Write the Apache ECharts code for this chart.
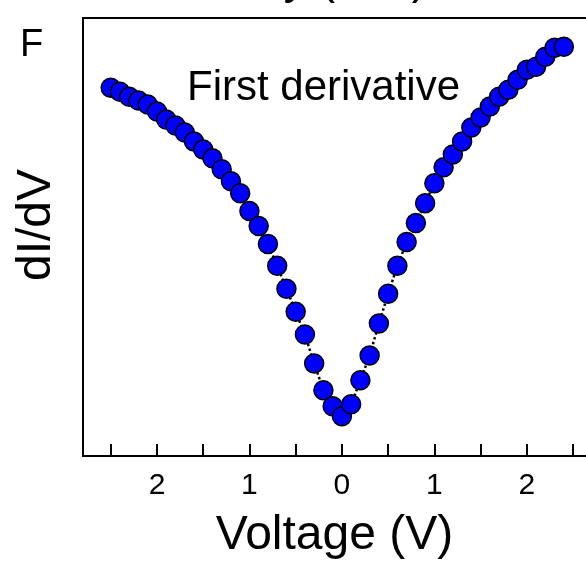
<!DOCTYPE html>
<html>
<head>
<meta charset="utf-8">
<script src="https://cdn.jsdelivr.net/npm/echarts@6/dist/echarts.min.js"></script>
<style>
html,body{margin:0;padding:0;background:#fff;}
#chart{width:586px;height:565px;}
</style>
</head>
<body>
<div id="chart"></div>
<script>
// Voltage (V)
const voltages = [-2.5,-2.4,-2.3,-2.2,-2.1,-2.0,-1.9,-1.8,-1.7,-1.6,-1.5,-1.4,-1.3,-1.2,-1.1,-1.0,-0.9,-0.8,-0.7,-0.6,-0.5,-0.4,-0.3,-0.2,-0.1,
  0.0,0.1,0.2,0.3,0.4,0.5,0.6,0.7,0.8,0.9,1.0,1.1,1.2,1.3,1.4,1.5,1.6,1.7,1.8,1.9,2.0,2.1,2.2,2.3,2.4];
// dI/dV (a.u.)
const dIdV = [3.70,3.66,3.61,3.57,3.53,3.46,3.38,3.32,3.25,3.16,3.08,2.99,2.88,2.76,2.64,2.46,2.31,2.13,1.91,1.68,1.45,1.22,0.93,0.66,0.50,
  0.40,0.52,0.76,1.01,1.33,1.63,1.91,2.15,2.34,2.54,2.74,2.90,3.03,3.16,3.30,3.40,3.51,3.61,3.68,3.78,3.88,3.91,4.01,4.10,4.11];
const tickValues = [-2.5,-2,-1.5,-1,-0.5,0,0.5,1,1.5,2,2.5];
const labelValues = [-2,-1,0,1,2];

const FONT = 'Liberation Sans, Arial, sans-serif';
const chart = echarts.init(document.getElementById('chart'), null, {renderer:'canvas'});
chart.setOption({
  backgroundColor:'#fff',
  animation:false,
  grid:{left:83, top:18, right:0, bottom:107, show:false},
  xAxis:[{
    type:'value', min:-2.8, max:2.64, position:'bottom',
    name:'Voltage (V)', nameLocation:'middle', nameGap:80,
    nameTextStyle:{fontFamily:FONT, fontSize:48, color:'#000', verticalAlign:'middle'},
    axisLine:{show:true, onZero:false, lineStyle:{color:'#000', width:2}},
    axisTick:{show:true, inside:true, length:12, lineStyle:{color:'#000', width:2}, customValues:tickValues},
    axisLabel:{show:true, margin:15, fontFamily:FONT, fontSize:30, color:'#000', customValues:labelValues,
      formatter:v=>String(Math.abs(Math.round(v)))},
    splitLine:{show:false}
  },{
    type:'value', min:-2.8, max:2.64, position:'top',
    axisLine:{show:true, onZero:false, lineStyle:{color:'#000', width:2}},
    axisTick:{show:false}, axisLabel:{show:false}, splitLine:{show:false}
  }],
  yAxis:{
    type:'value', min:0, max:4.4,
    axisLine:{show:true, onZero:false, lineStyle:{color:'#000', width:2}},
    axisTick:{show:false}, axisLabel:{show:false}, splitLine:{show:false}
  },
  series:[{
    type:'line',
    xAxisIndex:0,
    data:voltages.map((v,i)=>[v,dIdV[i]]),
    symbol:'circle', symbolSize:19,
    lineStyle:{color:'#000', width:2.5, type:'dotted'},
    itemStyle:{color:'#0000FF', borderColor:'#000', borderWidth:1.5},
    z:3
  }],
  graphic:[
    {type:'text', left:20, top:27, style:{text:'F', fontFamily:FONT, fontSize:38, fill:'#000'}},
    {type:'text', x:187, y:88, style:{text:'First derivative', fontFamily:FONT, fontSize:42, fill:'#000', textAlign:'left', textVerticalAlign:'middle'}},
    {type:'text', x:37, y:225, rotation:Math.PI/2, style:{text:'dI/dV', fontFamily:FONT, fontSize:48, fill:'#000', textAlign:'center', textVerticalAlign:'middle'}},
    {type:'text', x:427, y:3, style:{text:'Intensity (a.u.)', fontFamily:FONT, fontSize:46, fill:'#000', textAlign:'right', textVerticalAlign:'bottom'}}
  ]
});
</script>
</body>
</html>
